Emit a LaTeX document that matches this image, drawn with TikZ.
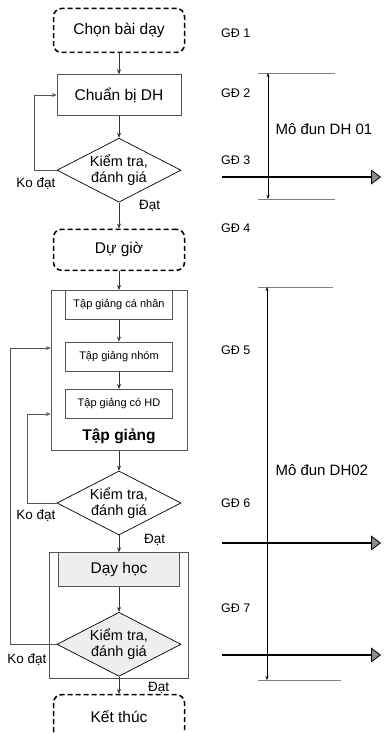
\documentclass[tikz,border=0pt]{standalone}
\usepackage{fontspec}
\setmainfont{Liberation Sans}
\usetikzlibrary{arrows.meta, positioning, shapes.geometric}
\definecolor{frame}{HTML}{555555}
\definecolor{stipple}{HTML}{EEEEEE}
\definecolor{headgray}{HTML}{8A8A8A}
\tikzset{
	phase/.style={draw=black, line width=1.5pt, dash pattern=on 5pt off 3pt,
		rounded corners=8pt, minimum width=131pt, minimum height=44pt,
		font=\fontsize{15.5}{18}\selectfont},
	task/.style={draw=frame, line width=0.6pt, minimum width=124pt,
		minimum height=41pt, font=\fontsize{15.5}{18}\selectfont},
	sub/.style={draw=frame, line width=0.5pt, minimum width=107pt,
		minimum height=29pt, font=\fontsize{11}{13}\selectfont},
	check/.style={diamond, draw=black, line width=0.7pt, aspect=1.9,
		minimum width=124pt, minimum height=64pt, inner sep=0pt, align=center,
		font=\fontsize{14.5}{16}\selectfont},
	group/.style={draw=frame, line width=0.6pt},
	lbl/.style={font=\fontsize{13.5}{16}\selectfont, inner sep=1pt},
	gd/.style={anchor=west, font=\fontsize{12.5}{15}\selectfont, inner sep=0pt},
	arr/.style={-{Stealth[length=5pt,width=4pt]}, line width=0.6pt, black!80},
	back/.style={-{Stealth[length=5pt,width=4pt]}, line width=0.6pt, frame},
	dim/.style={{Stealth[length=4pt,width=3pt]}-{Stealth[length=4pt,width=3pt]}, line width=0.5pt},
	tick/.style={line width=0.5pt, gray},
	goal/.style={-{Triangle[length=10pt,width=15pt,line width=0.8pt,color=black,fill=headgray]}, line width=1.6pt},
}

\begin{document}
\begin{tikzpicture}[x=1pt, y=-1pt]
	\useasboundingbox (0,0) rectangle (383,733);
	% main chain
	\node[phase] (chon) at (119,30.5) {Chọn bài dạy};
	\node[task, below=21pt of chon] (chuanbi) {Chuẩn bị DH};
	\node[check, below=22pt of chuanbi] (kt1) {Kiểm tra,\\đánh giá};
	\node[phase, minimum height=41pt, below=26pt of kt1] (dugio) {Dự giờ};
	% tap giang block
	\node[group, minimum width=136pt, minimum height=160pt, below=19pt of dugio] (tapgiang) {};
	\node[sub, anchor=north] (canhan) at (tapgiang.north) {Tập giảng cá nhân};
	\node[sub, below=22pt of canhan] (nhom) {Tập giảng nhóm};
	\node[sub, below=18pt of nhom] (coHD) {Tập giảng có HD};
	\node[font=\bfseries\fontsize{15.5}{18}\selectfont, above=3pt of tapgiang.south] (tglbl) {Tập giảng};
	\node[check, below=20pt of tapgiang] (kt2) {Kiểm tra,\\đánh giá};
	% day hoc block
	\node[group, minimum width=139pt, minimum height=126pt, below=17pt of kt2] (dayhoc) {};
	\node[task, fill=stipple, minimum width=121pt, minimum height=34pt, anchor=north] (day) at (dayhoc.north) {Dạy học};
	\node[check, fill=stipple, below=25pt of day] (kt3) {Kiểm tra,\\đánh giá};
	\node[phase, below=15pt of dayhoc] (ketthuc) {Kết thúc};

	\draw[arr] (chon) -- (chuanbi);
	\draw[arr] (chuanbi) -- (kt1);
	\draw[arr] (kt1) -- (dugio);
	\draw[arr] (dugio) -- (tapgiang);
	\draw[arr] (canhan) -- (nhom);
	\draw[arr] (nhom) -- (coHD);
	\draw[arr] (tapgiang) -- (kt2);
	\draw[arr] (kt2) -- (dayhoc);
	\draw[arr] (day) -- (kt3);
	\draw[arr] (kt3) -- (ketthuc);

	% loops back
	\coordinate (inA) at ([yshift=-58pt]tapgiang.north west);
	\coordinate (inB) at ([yshift=-124pt]tapgiang.north west);
	\draw[back] (kt1.west) -- ++(-22,0) |- (chuanbi.west);
	\draw[back] (kt2.west) -- ++(-29,0) |- (inB);
	\draw[back] (kt3.west) -- ++(-46,0) |- (inA);

	\node[lbl, below left=6pt and 0pt of kt1.west] (ko1) {Ko đạt};
	\node[lbl, below left=6pt and 0pt of kt2.west] (ko2) {Ko đạt};
	\node[lbl, below left=8pt and 9pt of kt3.west] (ko3) {Ko đạt};
	\node[lbl, anchor=west] (dat1) at ([xshift=19pt,yshift=-3pt]kt1.south) {Đạt};
	\node[lbl, anchor=west] (dat2) at ([xshift=24pt,yshift=-5pt]kt2.south) {Đạt};
	\node[lbl, anchor=west] (dat3) at ([xshift=28pt,yshift=-11pt]kt3.south) {Đạt};

	% giai doan
	\node[gd] (gd1) at (221,33) {GĐ 1};
	\node[gd] (gd2) at (221,93) {GĐ 2};
	\node[gd] (gd3) at (221,160) {GĐ 3};
	\node[gd] (gd4) at (221,228) {GĐ 4};
	\node[gd] (gd5) at (221,350) {GĐ 5};
	\node[gd] (gd6) at (221,503) {GĐ 6};
	\node[gd] (gd7) at (221,608) {GĐ 7};

	% mo dun
	\coordinate (m1a) at (268,73);
	\coordinate (m1b) at (268,199);
	\draw[tick] ([xshift=-10pt]m1a) -- ++(77,0);
	\draw[tick] ([xshift=-10pt]m1b) -- ++(77,0);
	\draw[dim] (m1a) -- (m1b);
	\node[anchor=west, font=\fontsize{15}{18}\selectfont] (mod1) at (272,129) {Mô đun DH 01};

	\coordinate (m2a) at (267,287);
	\coordinate (m2b) at (267,680);
	\draw[tick] ([xshift=-9pt]m2a) -- ++(75,0);
	\draw[tick] ([xshift=-9pt]m2b) -- ++(83,0);
	\draw[dim] (m2a) -- (m2b);
	\node[anchor=west, font=\fontsize{15}{18}\selectfont] (mod2) at (272,470) {Mô đun DH02};

	\coordinate (g1) at (222,177);
	\coordinate (g2) at (222,543);
	\coordinate (g3) at (222,655);
	\draw[goal] (g1) -- ++(159,0);
	\draw[goal] (g2) -- ++(159,0);
	\draw[goal] (g3) -- ++(159,0);
\end{tikzpicture}
\end{document}
